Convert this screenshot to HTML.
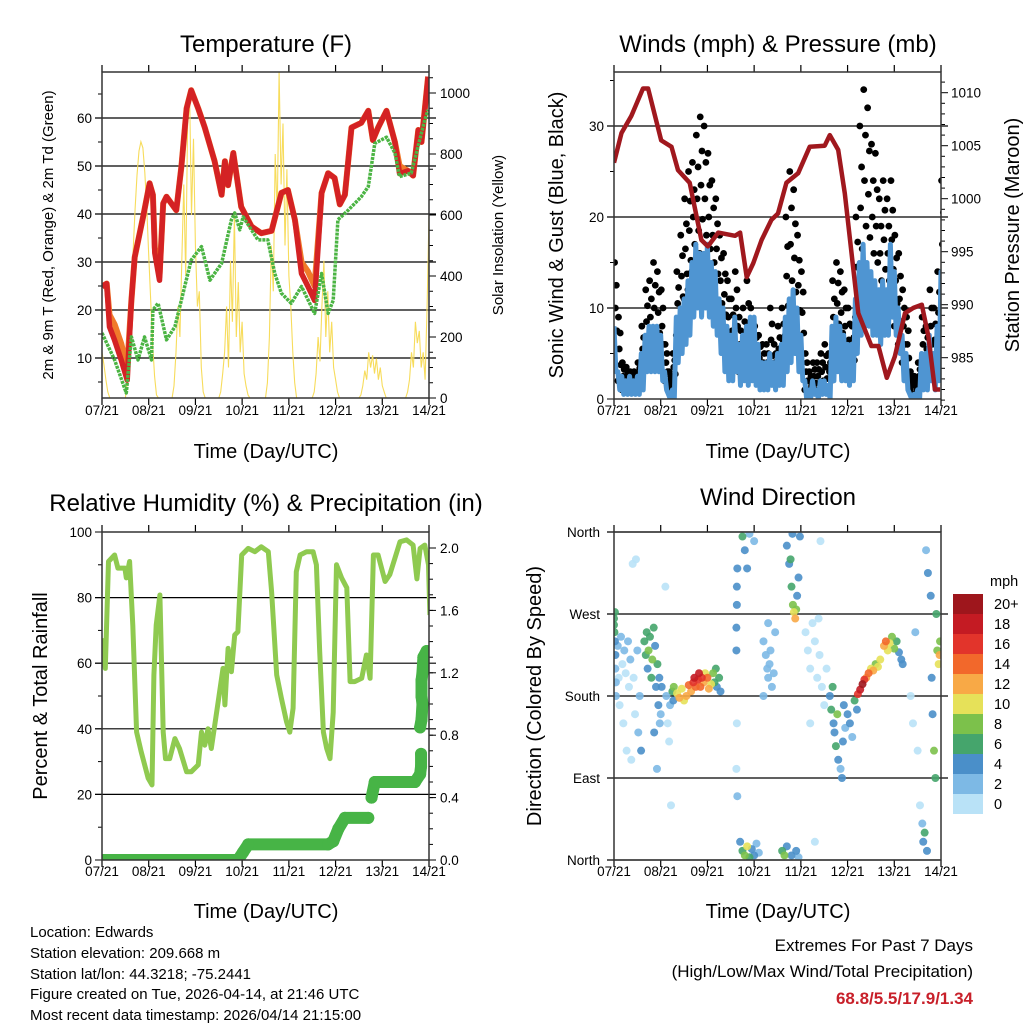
<!DOCTYPE html>
<html><head><meta charset="utf-8"><style>
body{margin:0;background:#fff;}
svg{display:block;font-family:"Liberation Sans",sans-serif;}
</style></head><body>
<svg id="s" width="1024" height="1024" viewBox="0 0 1024 1024" xmlns="http://www.w3.org/2000/svg">
<defs>
<clipPath id="c1"><rect x="102" y="72" width="327" height="326"/></clipPath>
<clipPath id="c2"><rect x="614" y="72" width="327" height="327"/></clipPath>
<clipPath id="c3"><rect x="102" y="532" width="327" height="328"/></clipPath>
<clipPath id="c4"><rect x="614" y="532" width="327" height="328"/></clipPath>
</defs>
<g font-size="24" text-anchor="middle" fill="#000">
<text x="266" y="52">Temperature (F)</text>
<text x="778" y="52">Winds (mph) &amp; Pressure (mb)</text>
<text x="266" y="511">Relative Humidity (%) &amp; Precipitation (in)</text>
<text x="778" y="505">Wind Direction</text>
</g>
<g font-size="20" text-anchor="middle">
<text x="266" y="458">Time (Day/UTC)</text>
<text x="778" y="458">Time (Day/UTC)</text>
<text x="266" y="918">Time (Day/UTC)</text>
<text x="778" y="918">Time (Day/UTC)</text>
<text transform="translate(563,235) rotate(-90)">Sonic Wind &amp; Gust (Blue, Black)</text>
<text transform="translate(1019,235) rotate(-90)">Station Pressure (Maroon)</text>
<text transform="translate(47,696) rotate(-90)">Percent &amp; Total Rainfall</text>
<text transform="translate(541,696) rotate(-90)">Direction (Colored By Speed)</text>
</g>
<g font-size="15" text-anchor="middle">
<text transform="translate(53,235) rotate(-90)">2m &amp; 9m T (Red, Orange) &amp; 2m Td (Green)</text>
<text transform="translate(503,235) rotate(-90)">Solar Insolation (Yellow)</text>
</g>
<g font-size="15">
<text x="30" y="937">Location: Edwards</text>
<text x="30" y="958">Station elevation: 209.668 m</text>
<text x="30" y="979">Station lat/lon: 44.3218; -75.2441</text>
<text x="30" y="999">Figure created on Tue, 2026-04-14, at 21:46 UTC</text>
<text x="30" y="1020">Most recent data timestamp: 2026/04/14 21:15:00</text>
</g>
<g font-size="17" text-anchor="end">
<text x="973" y="951">Extremes For Past 7 Days</text>
<text x="973" y="977">(High/Low/Max Wind/Total Precipitation)</text>
<text x="973" y="1004" fill="#c8202a" font-weight="bold">68.8/5.5/17.9/1.34</text>
</g>
<g id="plots"></g>
</svg>
<script>
// ---- Temperature data (t in days from 07/21) ----
const tempT=[0,0.1,0.16,0.27,0.41,0.54,0.63,0.7,0.88,1.02,1.09,1.13,1.23,1.31,1.38,1.59,1.7,1.81,1.91,2.06,2.2,2.41,2.56,2.63,2.7,2.81,2.98,3.2,3.41,3.63,3.84,3.98,4.13,4.27,4.41,4.55,4.7,4.84,4.98,5.09,5.2,5.34,5.55,5.7,5.8,5.91,6.09,6.27,6.37,6.55,6.66,6.77,6.84,6.98];
const tempRed=[24.9,25.5,16.5,13.7,9.6,5.4,22,31,39.4,46.4,44,31.9,26.2,42.2,43.6,40.8,49.9,62,65.8,62,58,51,44,51,46,52.7,41.5,37.4,36,36.5,44.4,45,38.8,27.6,24.9,22,44.4,48.5,47.5,42,44,58,59,61.5,55.4,58,61.5,55,48.4,49,48,57.5,55,68.6];
const tempOrange=[24.9,25.5,19,17,13,8,22,31,39.4,46.4,44,33,27,42.2,43.6,40.8,49.9,62,65.8,62,58,51,44,51,46,52.7,41.5,37.4,36,36.5,44.4,45,38.8,30,28,25,44.4,48.5,47.5,42,44,58,59,61.5,55.4,58,61.5,55,50,49,48,57.5,55,68.6];
const dewT=[0,0.27,0.52,0.63,0.77,0.91,1.06,1.09,1.2,1.38,1.56,1.77,1.91,2.13,2.31,2.56,2.77,2.84,2.95,3.02,3.34,3.55,3.7,3.84,4.05,4.27,4.55,4.7,4.84,4.95,5.05,5.27,5.55,5.7,5.84,6.09,6.27,6.37,6.62,6.91,6.98];
const dewV=[15.2,9.6,2.7,14.4,9.6,14.4,9.6,20,21.4,13.8,16.5,24.9,30.4,33.2,26.2,29.7,38.8,40.2,36.7,39.4,34.6,34.6,27.6,23.5,21.4,24.9,19.3,27.6,19.3,22,38.8,40.8,43.6,45.7,54.7,56,52.7,47.8,48.5,59.6,61.7];
const solarStart=[150,110,60,20,0];
const solarDays=[
[0,60,180,330,480,620,730,810,840,820,740,620,470,320,180,70,10],
[0,40,150,300,200,450,700,400,900,1000,600,850,500,300,350,100,20],
[0,20,80,150,300,100,450,250,600,200,380,150,250,80,40,10,0],
[0,50,200,500,350,800,600,1070,700,900,500,750,400,300,150,50,0],
[0,20,80,200,120,300,450,200,350,150,250,100,60,20,0,0,0],
[0,10,40,90,60,150,100,140,80,130,60,100,40,20,0,0,0],
[0,20,60,150,100,250,180,220,100,150,60,300,600]];
const tempTicks=[10,20,30,40,50,60];
const solarTicks=[0,200,400,600,800,1000];
const dayLabels=["07/21","08/21","09/21","10/21","11/21","12/21","13/21","14/21"];
// ---- Wind data (2-hour bins) ----
const gustHi=[15,9,4,3.5,3,3,4,8,12,13,15,14,12,6,3,5,14,18,22,25,26,29,31,30,27,24,22,18,16,13,11,14,9,10,13,10,8,7,6,6,10,6,8,10,20,25,23,18,14,5,3,4,4,5,6,5,13,15,14,12,10,8,20,30,34,32,28,27,22,24,22,24,18,16,12,9,3,2.5,4,9,8,12,10,14,24];
const gustLo=[5,2,1,1,1,1,1.5,3,5,5,5,5,4,2,1,2,7,9,11,12,14,15,16,14,13,12,11,8,7,5,4,6,3,4,3,4,3,2,2,2,3,2,3,3,7,9,8,7,5,1,1,1,1,1,1,1,5,6,5,4,3,3,9,12,14,13,12,11,10,11,10,11,8,6,4,3,1,0.5,1,3,3,4,3,5,10];
const windHi=[8,3,2.5,2,2.5,2,2.5,5,7,8,8,8,7,3,0.5,1,9,10,11,13,15,17,16,16,17,15,14,11,10,8,7,9,6,7,8,9,9,6,4,4,5,4,5,6,9,11,12,10,7,2,1,2,1,2,2,1.5,8,9,8,7,6,6,11,15,17,15,14,13,12,13,12,17,14,10,7,5,0.5,0.5,1,5,5,7,5,8,14];
const windLo=[3,1,0.5,0.5,0.5,0.5,0.5,1,3,3,3,3,2,1,0,0,4,5,6,7,9,10,9,10,9,8,7,5,3,2,2,3,1.5,2,1.5,2,1.5,1,1,1,1.5,1,1.5,1.5,3,4,5,3,2,0,0,0.5,0,0.5,0.5,0,2,3,2,2,1.5,2,5,7,8,8,7,7,6,7,7,9,7,5,2,1,0,0,0,1,1,2,1,2,6];
const presT=[0,0.16,0.37,0.62,0.73,1.01,1.23,1.37,1.62,1.87,2.01,2.23,2.59,2.7,2.84,2.98,3.16,3.37,3.51,3.69,3.94,4.19,4.51,4.62,4.8,4.94,5.23,5.51,5.66,5.84,6.01,6.23,6.41,6.59,6.73,6.87,6.98];
const presV=[1003.4,1006.2,1007.8,1010.4,1010.4,1005.5,1004.9,1002.7,1001.5,996.1,995.5,996.8,996.5,996.8,992.6,993.9,996.1,998,998.6,1001.5,1002.4,1004.9,1005,1006,1004.6,1000.5,989.2,986.1,986.1,983.1,985.1,989.2,989.7,990,987,982,982];
const windTicks=[0,10,20,30];
const presTicks=[985,990,995,1000,1005,1010];
// ---- RH / precip ----
const rhT=[0,0.07,0.14,0.27,0.34,0.49,0.52,0.59,0.66,0.74,0.84,0.99,1.07,1.11,1.16,1.24,1.31,1.36,1.45,1.56,1.66,1.81,1.91,2.06,2.13,2.2,2.27,2.34,2.49,2.59,2.63,2.7,2.77,2.84,2.91,2.99,3.13,3.27,3.41,3.56,3.63,3.74,3.84,3.95,4.02,4.09,4.16,4.24,4.38,4.52,4.59,4.66,4.74,4.81,4.88,4.95,5.02,5.13,5.24,5.31,5.41,5.56,5.66,5.74,5.81,5.91,6.06,6.16,6.27,6.38,6.52,6.66,6.74,6.81,6.91,6.99,7.02];
const rhV=[67.6,58.4,91,93,89,89,86,91,71.6,39,33,24.9,22.9,56.4,71.6,80.8,39,30.9,30.9,37,34,26.9,26.9,29,39,35,40,34,48.5,58.4,47.3,64.5,57.4,68.6,69.6,93,95,94,95.5,94,81.8,56.4,49.3,42.2,39,46.3,87.9,93,94,94,90,63.5,39,34,30.9,45,90,86,83,54.4,54.4,55.4,62.5,55.4,93,93,84.9,87,92,97,97.6,96,85.7,95,96,90,74.7];
const precipT=[0,2.91,3.02,3.13,4.84,4.95,5.06,5.2,5.7,5.77,5.84,6.7,6.81,6.83,6.83,6.81,6.84,6.86,6.84,6.84,6.86,6.88,6.95];
const precipV=[0,0,0.05,0.1,0.1,0.12,0.2,0.27,0.27,0.4,0.5,0.5,0.55,0.6,0.68,0.85,0.9,1.0,1.05,1.15,1.2,1.3,1.34];
const rhTicks=[0,20,40,60,80,100];
const precipTicks=["0.0","0.4","0.8","1.2","1.6","2.0"];
// ---- Wind direction ----
const dirT=[0,0,0.01,0.02,0.02,0.03,0.03,0.04,0.04,0.08,0.1,0.12,0.15,0.18,0.2,0.22,0.25,0.27,0.3,0.32,0.35,0.37,0.4,0.42,0.45,0.47,0.5,0.52,0.55,0.58,0.65,0.68,0.7,0.72,0.74,0.77,0.8,0.82,0.85,0.88,0.9,0.93,0.95,0.97,1.0,1.02,0.86,0.92,0.98,1.1,1.12,1.15,1.18,1.2,1.22,1.25,1.27,1.28,1.35,1.4,1.45,1.5,1.55,1.6,1.65,1.7,1.72,1.75,1.8,1.82,1.85,1.88,1.92,1.95,2.0,2.03,2.08,2.12,2.15,2.18,2.2,2.25,2.28,2.62,2.62,2.63,2.63,2.64,2.63,2.62,2.64,2.7,2.75,2.8,2.85,2.9,2.95,3.0,3.05,3.1,2.75,2.8,2.9,3.0,2.85,3.2,3.25,3.28,3.3,3.33,3.35,3.38,3.42,3.45,3.3,3.2,3.6,3.65,3.7,3.8,3.9,3.95,3.7,3.75,3.8,3.83,3.85,3.88,3.9,3.92,3.95,3.98,3.82,3.78,4.1,4.15,4.2,4.25,4.3,4.35,4.4,4.45,4.5,4.55,4.38,4.42,4.2,4.3,4.62,4.65,4.68,4.7,4.72,4.75,4.78,4.8,4.85,4.88,4.9,4.92,4.95,5.0,5.05,5.1,5.15,5.2,5.22,5.27,5.32,5.36,5.4,5.45,5.5,5.55,5.6,5.65,5.7,5.78,5.82,5.86,5.9,5.95,6.0,6.05,6.1,6.15,6.18,6.35,6.4,6.45,6.5,6.55,6.6,6.62,6.65,6.7,6.68,6.72,6.78,6.8,6.82,6.85,6.88,6.9,6.92,6.95,6.97,6.98];
const dirDeg=[265,258,250,272,240,225,210,195,180,235,200,170,245,215,150,230,205,120,240,190,220,110,325,200,160,330,230,140,180,120,240,225,250,210,230,245,200,220,255,235,190,215,170,200,160,190,140,100,150,300,180,150,130,170,60,185,175,190,183,178,188,175,180,192,185,195,200,190,198,205,190,200,195,205,200,188,193,205,195,210,190,200,185,230,255,280,300,320,150,100,70,20,10,5,15,3,12,5,18,8,355,340,358,350,320,240,225,210,200,215,230,190,205,250,260,180,10,5,15,5,10,3,345,325,300,280,272,265,275,290,310,355,358,330,250,230,210,260,240,200,225,190,170,210,265,350,150,20,180,165,190,150,140,125,160,110,100,90,130,170,145,160,150,135,175,165,182,187,193,198,200,205,210,208,215,212,220,235,240,230,238,245,232,240,228,220,215,180,150,250,120,60,40,20,30,10,340,315,290,200,160,120,90,270,230,215,225,240];
const dirSpd=[7,6,7,6,4,4,3,3,2,2,1,0,2,1,0,2,1,0,2,1,2,0,0,1,1,0,2,2,3,4,6,7,6,5,8,7,6,8,6,5,4,6,4,5,3,4,5,3,3,1,2,1,1,3,1,6,4,8,10,12,11,10,12,14,13,16,18,15,17,18,14,16,12,10,14,12,11,8,6,7,4,6,4,4,4,4,4,4,0,0,3,4,6,8,10,6,4,4,3,2,6,4,2,2,4,2,2,2,2,2,2,2,2,3,3,3,6,8,4,4,5,3,4,4,6,8,10,12,9,4,4,4,4,6,0,1,0,1,0,1,0,0,1,0,0,0,0,0,5,6,7,5,4,6,8,4,3,4,4,4,3,5,4,3,6,4,16,18,20,16,12,14,10,12,9,11,10,12,14,10,11,8,9,6,4,4,4,0,0,2,0,0,2,4,6,4,2,4,4,4,4,8,6,6,8,10,12,8];
const speedLabels=["20+","18","16","14","12","10","8","6","4","2","0"];
const speedColors=["#9e161c","#c41b23","#e2342b","#f2682b","#f8a946","#e6e159","#7cc14b","#45a56c","#4a8fc9","#7db9e5","#b9e2f7"];
const dirTicks=["North","West","South","East","North"];

const NS="http://www.w3.org/2000/svg";
const root=document.getElementById('plots');
function mk(tag,attrs,parent){const e=document.createElementNS(NS,tag);for(const k in attrs)e.setAttribute(k,attrs[k]);(parent||root).appendChild(e);return e;}
function txt(x,y,s,anchor,size,parent){const e=mk('text',{x:x,y:y,'font-size':size,'text-anchor':anchor},parent);e.textContent=s;return e;}
function path(pts){return pts.map((p,i)=>(i?'L':'M')+p[0].toFixed(1)+' '+p[1].toFixed(1)).join(' ');}

function frame(x0,y0,x1,y1,name,gridYs,xLabY){
  const g=mk('g',{});
  
  
  gridYs.forEach(y=>mk('line',{x1:x0-7,x2:x1+7,y1:y,y2:y,stroke:'#000','stroke-width':1.2},g));
  for(let d=0;d<=7;d++){const x=x0+d*(x1-x0)/7;
    mk('line',{x1:x,x2:x,y1:y0-7,y2:y0,stroke:'#000','stroke-width':1.2},g);
    mk('line',{x1:x,x2:x,y1:y1,y2:y1+7,stroke:'#000','stroke-width':1.2},g);
    const t=txt(x,xLabY,dayLabels[d],'middle',13.5,g);
    
    }
  return g;
}
function border(x0,y0,x1,y1){const r=mk('rect',{x:x0,y:y0,width:x1-x0,height:y1-y0,fill:'none',stroke:'#333','stroke-width':1.5});
  
  }

// ===== Panel 1 Temperature =====
{const X0=102,X1=429,Y0=72,Y1=398;
 const xs=t=>X0+t/7*(X1-X0), yT=v=>406-4.8*v, yS=s=>398-0.305*s;
 const g=frame(X0,Y0,X1,Y1,'temperature',tempTicks.map(yT),415);
 tempTicks.forEach(v=>{txt(X0-10,yT(v)+5,String(v),'end',13.5,g);});
 for(let v=5;v<70;v+=5){if(v%10)mk('line',{x1:X0-4,x2:X0,y1:yT(v),y2:yT(v),stroke:'#000'},g);}
 solarTicks.forEach(v=>{mk('line',{x1:X1,x2:X1+7,y1:yS(v),y2:yS(v),stroke:'#000'},g);txt(X1+11,yS(v)+5,String(v),'start',13.5,g);});
 for(let v=50;v<1070;v+=50){if(v%200)mk('line',{x1:X1,x2:X1+4,y1:yS(v),y2:yS(v),stroke:'#000'},g);}
 const c=mk('g',{'clip-path':'url(#c1)'});
 const sp=[];solarStart.forEach((v,i)=>sp.push([xs(i/24),yS(v)]));
 sp.push([xs(5/24),yS(0)]);
 solarDays.forEach((arr,k)=>{arr.forEach((v,i)=>sp.push([xs((k*24+12+i)/24),yS(v)]));if(k<6)sp.push([xs((k*24+29)/24),yS(0)]);});
 const s=mk('path',{d:path(sp),fill:'none',stroke:'#f7dc5c','stroke-width':1.1},c);
 
 
 const o=mk('path',{d:path(tempT.map((t,i)=>[xs(t),yT(tempOrange[i])])),fill:'none',stroke:'#f07a2a','stroke-width':6,'stroke-linejoin':'round'},c);
 
 
 const r=mk('path',{d:path(tempT.map((t,i)=>[xs(t),yT(tempRed[i])])),fill:'none',stroke:'#d42224','stroke-width':5.5,'stroke-linejoin':'round'},c);
 
 
 const d=mk('path',{d:path(dewT.map((t,i)=>[xs(t),yT(dewV[i])])),fill:'none',stroke:'#4bb443','stroke-width':3.5,'stroke-dasharray':'3 1','stroke-linejoin':'round'},c);
 
 
 border(X0,Y0,X1,Y1);}

// ===== Panel 2 Winds =====
{const X0=614,X1=941,Y0=72,Y1=399;
 const xs=t=>X0+t/7*(X1-X0), yW=v=>399-9.1*v, yP=p=>92.7+(1010-p)*10.6;
 const g=frame(X0,Y0,X1,Y1,'winds',windTicks.slice(1).map(yW),415);
 windTicks.forEach(v=>{txt(X0-10,yW(v)+5,String(v),'end',13.5,g);mk('line',{x1:X0-7,x2:X0,y1:yW(v),y2:yW(v),stroke:'#000'},g);});
 for(let v=5;v<36;v+=10)mk('line',{x1:X0-4,x2:X0,y1:yW(v),y2:yW(v),stroke:'#000'},g);
 presTicks.forEach(v=>{mk('line',{x1:X1,x2:X1+7,y1:yP(v),y2:yP(v),stroke:'#000'},g);txt(X1+10,yP(v)+5,String(v),'start',13.5,g);});
 for(let v=981;v<1012;v++){if(v%5)mk('line',{x1:X1,x2:X1+4,y1:yP(v),y2:yP(v),stroke:'#000'},g);}
 const c=mk('g',{'clip-path':'url(#c2)'});
 const gg=mk('g',{fill:'#000'},c);
 
 
 const fr=[0,0.25,0.5,0.75,1], off=[0,1.5,0.7,1.2,0.3];
 gustHi.forEach((v,i)=>{const t=i*2/24;const lo=gustLo[i];
   fr.forEach((f,j)=>{mk('circle',{cx:xs(t+off[j]/24),cy:yW(lo+(v-lo)*f),r:3.4},gg);});});
 const bp=[];windHi.forEach((v,i)=>{bp.push([xs(i*2/24),yW(v)]);bp.push([xs((i*2+1)/24),yW(windLo[i])]);});
 const b=mk('path',{d:path(bp),fill:'none',stroke:'#4f95d2','stroke-width':5,'stroke-linejoin':'round'},c);
 
 
 const p=mk('path',{d:path(presT.map((t,i)=>[xs(t),yP(presV[i])])),fill:'none',stroke:'#a0181e','stroke-width':4.5,'stroke-linejoin':'round'},c);
 
 
 border(X0,Y0,X1,Y1);}

// ===== Panel 3 RH =====
{const X0=102,X1=429,Y0=532,Y1=860;
 const xs=t=>X0+t/7*(X1-X0), yR=v=>860-3.28*v, yQ=p=>860-156*p;
 const g=frame(X0,Y0,X1,Y1,'humidity',rhTicks.slice(1,5).map(yR),876);
 rhTicks.forEach(v=>{txt(X0-10,yR(v)+5,String(v),'end',13.5,g);mk('line',{x1:X0-7,x2:X0,y1:yR(v),y2:yR(v),stroke:'#000'},g);});
 for(let v=10;v<100;v+=20)mk('line',{x1:X0-4,x2:X0,y1:yR(v),y2:yR(v),stroke:'#000'},g);
 precipTicks.forEach(s=>{const v=parseFloat(s);mk('line',{x1:X1,x2:X1+7,y1:yQ(v),y2:yQ(v),stroke:'#000'},g);txt(X1+11,yQ(v)+5,s,'start',13.5,g);});
 for(let v=0.1;v<2.1;v+=0.1){mk('line',{x1:X1,x2:X1+4,y1:yQ(v),y2:yQ(v),stroke:'#000'},g);}
 const c=mk('g',{'clip-path':'url(#c3)'});
 const r=mk('path',{d:path(rhT.map((t,i)=>[xs(t),yR(rhV[i])])),fill:'none',stroke:'#8fca50','stroke-width':5,'stroke-linejoin':'round'},c);
 
 
 const pg=mk('g',{fill:'#47b446',stroke:'#47b446'},c);
 
 
 for(let i=1;i<precipT.length;i++){if(precipV[i]-precipV[i-1]<=0.12)mk('line',{x1:xs(precipT[i-1]),y1:yQ(precipV[i-1]),x2:xs(precipT[i]),y2:yQ(precipV[i]),'stroke-width':12,'stroke-linecap':'round'},pg);}
 precipT.forEach((t,i)=>mk('circle',{cx:xs(t),cy:yQ(precipV[i]),r:6,stroke:'none'},pg));
 border(X0,Y0,X1,Y1);}

// ===== Panel 4 Wind direction =====
{const X0=614,X1=941,Y0=532,Y1=860;
 const xs=t=>X0+t/7*(X1-X0), yD=d=>860-d*328/360;
 const g=frame(X0,Y0,X1,Y1,'wind-direction',[90,180,270].map(yD),876);
 dirTicks.forEach((s,i)=>{const y=yD(360-i*90);mk('line',{x1:X0-7,x2:X0,y1:y,y2:y,stroke:'#000'},g);txt(X0-14,y+5,s,'end',13.5,g);});
 mk('line',{x1:X0-7,x2:X1,y1:yD(360),y2:yD(360),stroke:'#000','stroke-width':1.2},g);
 mk('line',{x1:X0-7,x2:X1,y1:yD(0),y2:yD(0),stroke:'#000','stroke-width':1.2},g);
 const c=mk('g',{'clip-path':'url(#c4)'});
 const pg=mk('g',{'fill-opacity':0.9},c);
 
 
 const order=dirT.map((_,i)=>i).sort((a,b)=>dirSpd[a]-dirSpd[b]);
 order.forEach(i=>{const k=Math.max(0,Math.min(10,10-Math.floor(dirSpd[i]/2)));
   mk('circle',{cx:xs(dirT[i]),cy:yD(dirDeg[i]),r:4,fill:speedColors[k]},pg);});
 border(X0,Y0,X1,Y1);
 const lg=mk('g',{});
 
 
 txt(990,586,'mph','start',14.5,lg);
 speedLabels.forEach((s,i)=>{mk('rect',{x:953,y:594+20*i,width:30,height:20,fill:speedColors[i]},lg);txt(994,609+20*i,s,'start',14.5,lg);});}
</script>
</body></html>
